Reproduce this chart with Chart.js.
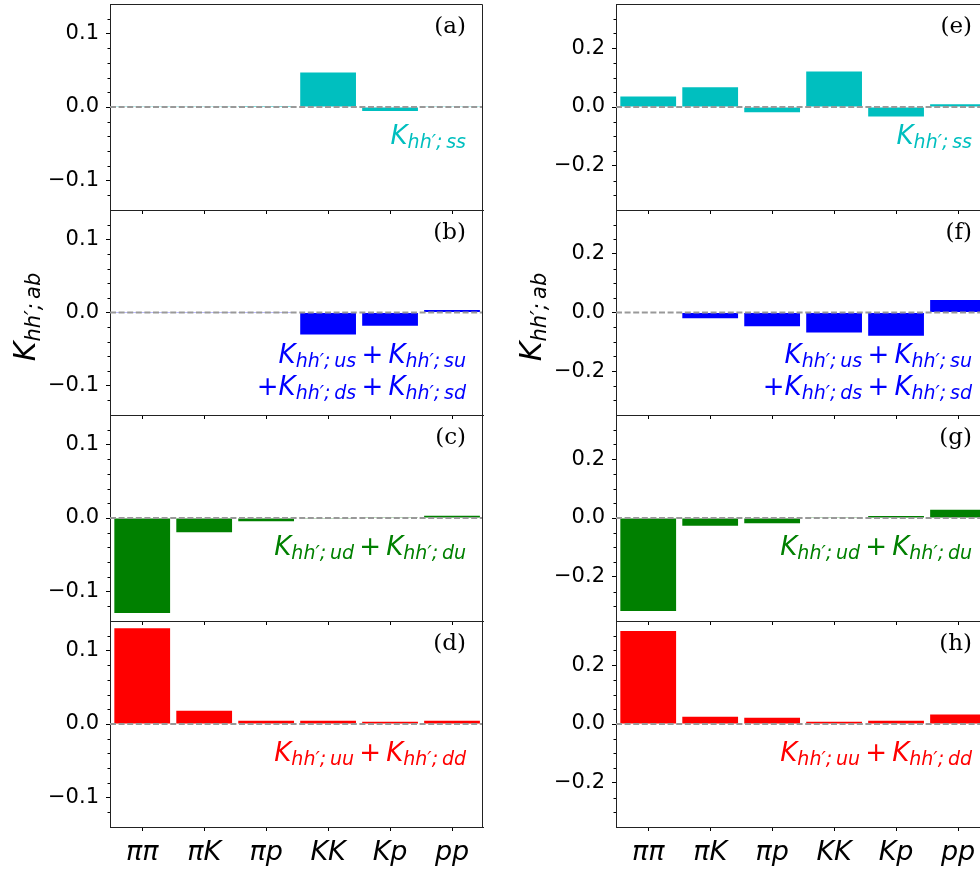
<!DOCTYPE html>
<html>
<head>
<meta charset="utf-8">
<script src="https://cdn.jsdelivr.net/npm/chart.js@4.4.1/dist/chart.umd.min.js"></script>
<style>
  html, body { margin: 0; padding: 0; background: #fff; overflow: hidden; width: 980px; height: 872px; }
  body { position: relative; font-family: 'DejaVu Sans', sans-serif; }
  .panel { position: absolute; }
  .note { position: absolute; font-style: italic; font-size: 26px; line-height: 30px; text-align: right; white-space: nowrap; }
  .note .sub, .ylabel .sub { position: relative; top: 4px; font-size: 19px; }
  .note .op { font-style: normal; }
  .tag { position: absolute; font-family: 'DejaVu Serif', serif; font-size: 23px; line-height: 23px; white-space: nowrap; }
  .ylabel { position: absolute; width: 200px; height: 40px; line-height: 40px; text-align: center;
            font-size: 30px; font-style: italic; transform: rotate(-90deg); white-space: nowrap; }
  .ylabel .sub { font-size: 21px; top: 5px; }
</style>
</head>
<body>
<script>
// categorie hadron-paren
const categories = ['ππ', 'πK', 'πp', 'KK', 'Kp', 'pp'];

// linker kolom (a)-(d)
const leftSS   = [0.0003, 0.0002, 0.0001, 0.047, -0.0055, 0.0005];
const leftMix  = [-0.0003, -0.0002, -0.0003, -0.030, -0.018, 0.0035];
const leftUD   = [-0.129, -0.0195, -0.0045, -0.0003, 0.001, 0.003];
const leftUUDD = [0.130, 0.018, 0.0045, 0.0045, 0.003, 0.0045];

// rechter kolom (e)-(h)
const rightSS   = [0.036, 0.067, -0.018, 0.121, -0.032, 0.009];
const rightMix  = [-0.002, -0.020, -0.047, -0.068, -0.079, 0.043];
const rightUD   = [-0.316, -0.026, -0.018, 0.001, 0.007, 0.028];
const rightUUDD = [0.316, 0.025, 0.021, 0.008, 0.011, 0.032];

// y-as ticks
const leftLimit = 0.14;
const leftMajorTicks = [-0.1, 0.0, 0.1];
const leftMinorTicks = [-0.12, -0.08, -0.06, -0.04, -0.02, 0.02, 0.04, 0.06, 0.08, 0.12];
const rightLimit = 0.35;
const rightMajorTicks = [-0.2, 0.0, 0.2];
const rightMinorTicks = [-0.3, -0.25, -0.15, -0.1, -0.05, 0.05, 0.1, 0.15, 0.25, 0.3];

const xMin = -0.52, xMax = 5.5;

const panelColors = ['#00bfbf', '#0000ff', '#008000', '#ff0000'];
const panelTags = [['(a)', '(b)', '(c)', '(d)'], ['(e)', '(f)', '(g)', '(h)']];
const panelTerms = [['ss'], ['us', 'su', 'ds', 'sd'], ['ud', 'du'], ['uu', 'dd']];

// layout (pixels)
const panelTops = [4, 210, 415, 621];
const panelBottoms = [210, 415, 621, 827];
const columns = [
  { left: 0,   width: 490, axisWidth: 110, padRight: 7,  noteRight: 466, data: [leftSS, leftMix, leftUD, leftUUDD],
    limit: leftLimit, major: leftMajorTicks, minor: leftMinorTicks, labelX: 24.5 },
  { left: 490, width: 510, axisWidth: 126, padRight: 11, noteRight: 972, data: [rightSS, rightMix, rightUD, rightUUDD],
    limit: rightLimit, major: rightMajorTicks, minor: rightMinorTicks, labelX: 531 }
];
const topPad = 24;
const spineColor = '#222';

// minor ticks en rand (boven/rechts) van de assen
const framePlugin = {
  id: 'frame',
  afterDraw(chart, args, opts) {
    const { ctx, chartArea: a } = chart;
    const y = chart.scales.y;
    ctx.save();
    ctx.lineWidth = 1;
    ctx.strokeStyle = '#000';
    ctx.beginPath();
    opts.minor.forEach(v => {
      const py = Math.round(y.getPixelForValue(v)) + 0.5;
      ctx.moveTo(a.left, py);
      ctx.lineTo(a.left - 2.5, py);
    });
    ctx.stroke();
    ctx.strokeStyle = spineColor;
    ctx.beginPath();
    ctx.moveTo(a.left, a.top + 0.5);
    ctx.lineTo(a.right - 0.5, a.top + 0.5);
    ctx.lineTo(a.right - 0.5, a.bottom);
    ctx.stroke();
    ctx.restore();
  }
};

function kTerm(sub) {
  return 'K<span class="sub">hh′;&thinsp;' + sub + '</span>';
}

function noteHtml(terms) {
  const plus = '<span class="op">&thinsp;+&thinsp;</span>';
  if (terms.length === 1) return kTerm(terms[0]);
  if (terms.length === 2) return kTerm(terms[0]) + plus + kTerm(terms[1]);
  return kTerm(terms[0]) + plus + kTerm(terms[1]) + '<br><span class="op">+</span>' + kTerm(terms[2]) + plus + kTerm(terms[3]);
}

function makePanel(col, row) {
  const c = columns[col];
  const isBottom = row === 3;
  const xAxisHeight = isBottom ? 872 - panelBottoms[row] : 24;
  const top = panelTops[row] - topPad;
  const height = topPad + (panelBottoms[row] - panelTops[row]) + xAxisHeight;

  const box = document.createElement('div');
  box.className = 'panel';
  box.style.left = c.left + 'px';
  box.style.top = top + 'px';
  box.style.width = c.width + 'px';
  box.style.height = height + 'px';
  const canvas = document.createElement('canvas');
  box.appendChild(canvas);
  document.body.appendChild(box);

  const values = c.data[row];
  new Chart(canvas, {
    type: 'bar',
    data: {
      datasets: [
        {
          type: 'line',
          data: [{ x: xMin, y: 0 }, { x: xMax, y: 0 }],
          borderColor: '#999999',
          borderWidth: 1.8,
          borderDash: [6, 2.6],
          pointRadius: 0,
          order: 0
        },
        {
          type: 'bar',
          data: categories.map((name, i) => ({ x: i, y: values[i] })),
          backgroundColor: panelColors[row],
          borderWidth: 0,
          barPercentage: 0.9,
          categoryPercentage: 1.0,
          order: 1
        }
      ]
    },
    options: {
      responsive: true,
      maintainAspectRatio: false,
      animation: false,
      events: [],
      layout: { padding: { top: topPad, right: c.padRight, bottom: 0, left: 0 } },
      plugins: {
        legend: { display: false },
        tooltip: { enabled: false },
        frame: { minor: c.minor }
      },
      scales: {
        x: {
          type: 'linear',
          min: xMin,
          max: xMax,
          offset: false,
          afterBuildTicks: s => { s.ticks = categories.map((n, i) => ({ value: i })); },
          afterFit: s => { s.height = xAxisHeight; },
          grid: { display: true, drawOnChartArea: false, drawTicks: true, tickLength: 4, tickColor: '#000', offset: false },
          border: { display: true, color: spineColor, width: 1 },
          ticks: {
            display: isBottom,
            padding: 6,
            color: '#000',
            autoSkip: false,
            maxRotation: 0,
            font: { family: "'DejaVu Sans', sans-serif", size: 27, style: 'italic' },
            callback: v => categories[Math.round(v)]
          }
        },
        y: {
          type: 'linear',
          min: -c.limit,
          max: c.limit,
          afterBuildTicks: s => { s.ticks = c.major.map(v => ({ value: v })); },
          afterFit: s => { s.width = c.axisWidth; },
          grid: { display: true, drawOnChartArea: false, drawTicks: true, tickLength: 4, tickColor: '#000' },
          border: { display: true, color: spineColor, width: 1 },
          ticks: {
            padding: 7,
            color: '#000',
            font: { family: "'DejaVu Sans', sans-serif", size: 21 },
            callback: v => v.toFixed(1).replace('-', '−')
          }
        }
      }
    },
    plugins: [framePlugin]
  });

  // paneel-letter
  const tag = document.createElement('div');
  tag.className = 'tag';
  tag.textContent = panelTags[col][row];
  tag.style.right = (980 - c.noteRight) + 'px';
  tag.style.top = (panelTops[row] + 9.5) + 'px';
  document.body.appendChild(tag);

  // kleurige formule
  const note = document.createElement('div');
  note.className = 'note';
  note.style.color = panelColors[row];
  note.style.right = (980 - c.noteRight) + 'px';
  const twoLines = panelTerms[row].length > 2;
  note.style.top = (panelTops[row] + (twoLines ? 129.3 : 115.5)) + 'px';
  note.innerHTML = noteHtml(panelTerms[row]);
  document.body.appendChild(note);
}

for (let col = 0; col < 2; col++) {
  for (let row = 0; row < 4; row++) makePanel(col, row);
  const yl = document.createElement('div');
  yl.className = 'ylabel';
  yl.innerHTML = 'K<span class="sub">hh′;&thinsp;ab</span>';
  yl.style.left = (columns[col].labelX - 100) + 'px';
  yl.style.top = (317 - 20) + 'px';
  document.body.appendChild(yl);
}
</script>
</body>
</html>
